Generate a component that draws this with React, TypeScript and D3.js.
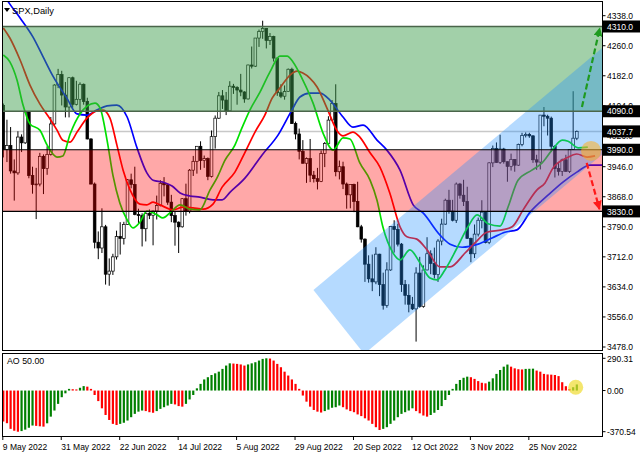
import React from 'react';
import * as d3 from 'd3';

// ---------- data ----------
const openPrices = [
  4105, 3991, 4001, 3935, 3930, 4023, 4008, 4088, 3923, 3900,
  3901, 3973, 3941, 3978, 4057, 4158, 4185, 4132, 4101, 4177,
  4108, 4121, 4160, 4115, 4018, 3901, 3750, 3735, 3790, 3667,
  3675, 3712, 3765, 3760, 3796, 3912, 3900, 3822, 3819, 3785,
  3825, 3820, 3831, 3845, 3903, 3899, 3854, 3819, 3802, 3790,
  3863, 3831, 3937, 3960, 3999, 3962, 3967, 3921, 4024, 4072,
  4130, 4119, 4091, 4155, 4152, 4145, 4140, 4122, 4210, 4207,
  4280, 4297, 4305, 4274, 4284, 4228, 4138, 4129, 4141, 4199,
  4058, 4031, 3986, 3955, 3967, 3924, 3915, 3908, 3980, 4006,
  4067, 4110, 3933, 3946, 3901, 3873, 3900, 3856, 3790, 3758,
  3693, 3655, 3647, 3719, 3640, 3586, 3678, 3791, 3783, 3745,
  3640, 3612, 3589, 3577, 3670, 3583, 3678, 3720, 3695, 3666,
  3753, 3797, 3859, 3831, 3807, 3901, 3872, 3856, 3760, 3720,
  3771, 3807, 3828, 3749, 3956, 3993, 3957, 3992, 3959, 3947,
  3965, 3950, 4004, 4027, 4030, 4026, 3964, 3958, 4080, 4077,
  4072, 3999, 3941, 3934, 3964, 3934, 3991, 4020,
];
const highPrices = [
  4110, 4068, 4049, 3965, 4038, 4030, 4090, 4090, 3946, 3943,
  3982, 3978, 3999, 4075, 4160, 4200, 4195, 4166, 4178, 4180,
  4169, 4165, 4162, 4125, 4020, 3905, 3778, 3838, 3795, 3708,
  3720, 3780, 3802, 3803, 3914, 3928, 3946, 3837, 3825, 3830,
  3835, 3832, 3871, 3911, 3919, 3900, 3873, 3829, 3804, 3864,
  3902, 3940, 3974, 3999, 4012, 3975, 3970, 4040, 4079, 4140,
  4145, 4140, 4168, 4161, 4155, 4187, 4142, 4211, 4258, 4280,
  4302, 4325, 4306, 4293, 4286, 4230, 4160, 4157, 4201, 4203,
  4063, 4045, 4015, 3970, 4018, 3935, 3943, 3988, 4010, 4077,
  4119, 4160, 3962, 3959, 3905, 3900, 3902, 3907, 3795, 3760,
  3716, 3718, 3737, 3720, 3671, 3698, 3792, 3807, 3798, 3748,
  3652, 3641, 3608, 3685, 3712, 3690, 3763, 3729, 3736, 3758,
  3811, 3863, 3886, 3860, 3905, 3904, 3912, 3894, 3762, 3796,
  3814, 3859, 3830, 3958, 4001, 4009, 4029, 3995, 3960, 3980,
  3966, 4006, 4034, 4035, 4034, 4028, 3977, 4080, 4101, 4081,
  4076, 4002, 3958, 3967, 3977, 3991, 4142, 4040,
];
const lowPrices = [
  3970, 3958, 3928, 3858, 3925, 3984, 4005, 3916, 3876, 3810,
  3895, 3875, 3925, 3975, 4055, 4150, 4105, 4074, 4074, 4099,
  4105, 4080, 4107, 4017, 3900, 3734, 3706, 3722, 3640, 3637,
  3665, 3705, 3718, 3744, 3795, 3890, 3820, 3799, 3739, 3752,
  3810, 3742, 3809, 3843, 3869, 3847, 3802, 3741, 3722, 3788,
  3819, 3825, 3922, 3928, 3938, 3943, 3911, 3918, 3993, 4070,
  4096, 4080, 4088, 4135, 4107, 4129, 4112, 4120, 4201, 4205,
  4257, 4278, 4253, 4262, 4219, 4130, 4124, 4120, 4140, 4057,
  4017, 3965, 3954, 3904, 3906, 3905, 3887, 3906, 3945, 4005,
  4065, 3921, 3913, 3888, 3837, 3838, 3828, 3789, 3749, 3647,
  3645, 3623, 3641, 3610, 3575, 3580, 3676, 3723, 3739, 3621,
  3588, 3568, 3574, 3492, 3580, 3580, 3677, 3667, 3656, 3647,
  3742, 3795, 3824, 3804, 3800, 3863, 3844, 3759, 3698, 3709,
  3765, 3786, 3747, 3745, 3945, 3956, 3953, 3954, 3907, 3936,
  3933, 3948, 3999, 4022, 4021, 3956, 3938, 3939, 4051, 4027,
  3984, 3918, 3923, 3922, 3933, 3930, 3990, 4015,
];
const closePrices = [
  3991, 4001, 3935, 3930, 4023, 4008, 4088, 3923, 3900, 3901,
  3973, 3941, 3978, 4057, 4158, 4185, 4132, 4101, 4177, 4108,
  4121, 4160, 4115, 4018, 3901, 3750, 3735, 3790, 3667, 3675,
  3712, 3765, 3760, 3796, 3912, 3900, 3822, 3819, 3785, 3825,
  3820, 3831, 3845, 3903, 3899, 3854, 3819, 3802, 3790, 3863,
  3831, 3937, 3960, 3999, 3962, 3967, 3921, 4024, 4072, 4130,
  4119, 4091, 4155, 4152, 4145, 4140, 4122, 4210, 4207, 4280,
  4297, 4305, 4274, 4284, 4228, 4138, 4129, 4141, 4199, 4058,
  4031, 3986, 3955, 3967, 3924, 3915, 3908, 3980, 4006, 4067,
  4110, 3933, 3946, 3901, 3873, 3900, 3856, 3790, 3758, 3693,
  3655, 3647, 3719, 3640, 3586, 3678, 3791, 3783, 3745, 3640,
  3612, 3589, 3577, 3670, 3583, 3678, 3720, 3695, 3666, 3753,
  3797, 3859, 3831, 3807, 3901, 3872, 3856, 3760, 3720, 3771,
  3807, 3828, 3749, 3956, 3993, 3957, 3992, 3959, 3947, 3965,
  3950, 4004, 4027, 4030, 4026, 3964, 3958, 4080, 4077, 4072,
  3999, 3941, 3934, 3964, 3934, 3991, 4020, 4037.7,
];

// Awesome Oscillator, one value per bar
const aoValues = [
  -279, -294, -345, -362, -370.54, -365, -352, -335, -315, -318,
  -322, -325, -295, -235, -180, -120, -60, -25, 15, 12,
  10, 25, 40, 35, 15, -40, -95, -160, -220, -265,
  -300, -310, -300, -290, -270, -240, -210, -190, -180, -185,
  -195, -200, -185, -165, -150, -135, -120, -125, -140, -145,
  -120, -80, -40, 20, 60, 100, 120, 140, 155, 170,
  195, 225, 245, 243, 240, 235, 225, 235, 245, 255,
  270, 285, 290.31, 288, 270, 240, 210, 170, 135, 100,
  60, 15, -45, -100, -145, -175, -190, -198, -185, -172,
  -155, -150, -135, -150, -170, -185, -195, -215, -230, -250,
  -270, -300, -330, -355, -345, -330, -300, -270, -240, -210,
  -195, -180, -160, -185, -205, -225, -235, -220, -200, -175,
  -140, -85, -40, 15, 60, 95, 115, 125, 120, 105,
  85, 70, 65, 80, 110, 150, 185, 215, 234, 215,
  200, 192, 190, 195, 196, 197, 180, 170, 150, 145,
  143, 140, 130, 75, 39, 15, 30, 55,
];

// Alligator lines (bar index, price)
const jawBars = [0, 1.8, 4.6, 8.1, 10.9, 13.6, 17.4, 20.2, 22.9, 25.6, 28.4, 31.1, 33.9, 36.6, 39.3, 41.0, 43.7, 46.2, 48.4, 51.1, 53.8, 57.4, 59.9, 62.1, 66.2, 70.8, 75.2, 79.0, 81.2, 83.9, 86.7, 89.4, 93.0, 95.7, 98.5, 102.3, 105.0, 108.6, 112.2, 114.9, 119.5, 122.3, 125.6, 130.0, 133.8, 137.3, 140.6, 144.2, 149.1, 153.2, 157.0, 160.6, 165];
const jawPrices = [4394, 4368, 4332, 4283, 4231, 4181, 4124, 4083, 4080, 4093, 4104, 4106, 4075, 3995, 3930, 3911, 3906, 3896, 3878, 3870, 3867, 3860, 3860, 3880, 3917, 3976, 4028, 4093, 4127, 4137, 4137, 4119, 4075, 4049, 4054, 4015, 3989, 3937, 3847, 3826, 3769, 3745, 3737, 3745, 3761, 3776, 3782, 3828, 3872, 3906, 3932, 3950, 3950];
const teethBars = [0, 1.8, 4.6, 7.3, 10.0, 12.8, 14.7, 16.3, 18.3, 20.2, 22.9, 25.6, 27.3, 29.2, 31.1, 32.8, 34.7, 37.4, 39.3, 41.0, 42.9, 46.5, 49.2, 51.9, 54.7, 57.4, 59.9, 63.4, 66.2, 68.9, 71.6, 73.6, 75.7, 78.5, 80.4, 82.0, 83.9, 85.9, 88.6, 91.4, 93.0, 95.7, 97.6, 100.4, 103.1, 105.8, 108.6, 110.5, 113.2, 116.0, 119.5, 122.3, 126.4, 129.1, 132.4, 136.5, 139.3, 142.3, 146.1, 148.3, 150.5, 154.3, 157.0, 159.8, 162];
const teethPrices = [4306, 4280, 4223, 4158, 4109, 4070, 4041, 4015, 4010, 4036, 4072, 4091, 4093, 4072, 4002, 3937, 3886, 3849, 3847, 3854, 3847, 3834, 3841, 3839, 3836, 3849, 3893, 3932, 3984, 4036, 4080, 4124, 4150, 4184, 4194, 4189, 4176, 4153, 4098, 4039, 4026, 4036, 4023, 3982, 3945, 3878, 3790, 3764, 3758, 3730, 3686, 3686, 3722, 3748, 3776, 3782, 3790, 3834, 3886, 3904, 3943, 3969, 3979, 3971, 3974];
const lipsBars = [0, 1.8, 3.75, 5.4, 7.3, 10.0, 12.0, 14.7, 16.3, 18.3, 21.0, 25.1, 26.5, 28.4, 30.0, 31.9, 33.9, 35.5, 37.4, 39.3, 42.1, 43.7, 45.6, 48.4, 51.1, 53.8, 56.6, 58.5, 60.7, 63.4, 65.3, 67.5, 70.3, 73.0, 75.7, 77.7, 79.3, 82.0, 84.8, 87.5, 90.3, 93.0, 94.9, 97.6, 100.4, 102.3, 103.9, 106.7, 108.6, 111.3, 114.1, 116.8, 118.7, 120.9, 124.2, 127.2, 129.7, 132.7, 136.0, 138.2, 140.9, 144.7, 147.5, 150.2, 153.0, 154.6, 157.4, 160];
const lipsPrices = [4236, 4218, 4171, 4106, 4057, 4041, 4002, 3971, 3974, 4031, 4083, 4111, 4098, 4015, 3924, 3852, 3808, 3787, 3802, 3831, 3821, 3813, 3826, 3847, 3836, 3834, 3886, 3917, 3963, 4002, 4046, 4093, 4140, 4192, 4233, 4233, 4218, 4171, 4111, 4034, 3989, 4021, 4018, 3956, 3911, 3859, 3790, 3722, 3704, 3730, 3696, 3657, 3652, 3678, 3735, 3790, 3821, 3798, 3792, 3842, 3911, 3937, 3956, 3989, 4015, 4012, 3995, 3997];

const priceTicks = [4338, 4260, 4182, 4104, 4026, 3946, 3868, 3790, 3712, 3634, 3556, 3478];
const aoTicks = [290.31, 0, -370.54];
const dateLabels = ['9 May 2022', '31 May 2022', '22 Jun 2022', '14 Jul 2022', '5 Aug 2022', '29 Aug 2022', '20 Sep 2022', '12 Oct 2022', '3 Nov 2022', '25 Nov 2022'];
const dateLabelBars = [0, 16, 32, 48, 64, 80, 96, 112, 128, 144];

const greenZone = [4090, 4310];
const pinkZone = [3830, 3990];
const greenLevels = [4310, 4090];
const blackLevels = [3990, 3830];
const bidPrice = 4037.7;
const markedLevels = [4310, 4090, 4037.7, 3990, 3830];

// channel: left corner, bottom corner (bar, price), slope in price per bar
const channelLeft = [84.9, 3626];
const channelBottom = [98.8, 3460];
const channelSlope = 7.95;

const upArrow = [[158.4, 4101], [163.3, 4306]];
const downArrow = [[159.7, 3956], [163.2, 3836]];
const circleMark = [160.9, 3987];
const aoMark = [156.7, 30];

// ---------- layout ----------
const W = 640;
const H = 457;
const L = 2.5;
const R = 602.5;
const MT = 1.5;
const MB = 350.5;
const AT = 353.5;
const AB = 436.5;
const FONT = '"Liberation Sans", Arial, sans-serif';

export default function App() {
  const x = d3.scaleLinear().domain([0, 157]).range([3.3, 3.3 + 157 * 3.653]);
  const y = d3.scaleLinear().domain([3478, 4338]).range([347, 15.7]);
  const ya = d3.scaleLinear().domain([-370.54, 290.31]).range([431.7, 358.3]);

  const mkLine = (bars: number[], prices: number[]) =>
    d3
      .line<number>()
      .x((i) => x(bars[i]))
      .y((i) => y(prices[i]))
      .curve(d3.curveMonotoneX)(d3.range(bars.length)) || '';

  const chan = [
    channelLeft,
    channelBottom,
    [channelBottom[0] + 120, channelBottom[1] + 120 * channelSlope],
    [channelLeft[0] + 120, channelLeft[1] + 120 * channelSlope],
  ]
    .map((p) => `${x(p[0])},${y(p[1])}`)
    .join(' ');

  const bw = 2.7;

  return (
    <svg
      width={W}
      height={H}
      style={{ position: 'absolute', left: 0, top: 0, background: '#fff' }}
      fontFamily={FONT}
    >
      <defs>
        <clipPath id="mainClip">
          <rect x={L} y={MT} width={R - L} height={MB - MT} />
        </clipPath>
        <marker id="headG" viewBox="0 0 10 10" refX="9" refY="5" markerWidth="9" markerHeight="9" markerUnits="userSpaceOnUse" orient="auto">
          <path d="M0,0 L10,5 L0,10 z" fill="#1f9a1f" />
        </marker>
        <marker id="headR" viewBox="0 0 10 10" refX="9" refY="5" markerWidth="9" markerHeight="9" markerUnits="userSpaceOnUse" orient="auto">
          <path d="M0,0 L10,5 L0,10 z" fill="#ff1a1a" />
        </marker>
      </defs>

      <rect x={0} y={0} width={W} height={H} fill="#fff" />

      <g clipPath="url(#mainClip)">
        {/* bid line */}
        <line x1={L} x2={R} y1={y(bidPrice)} y2={y(bidPrice)} stroke="#c8c8c8" strokeWidth={1.5} />

        {/* candles */}
        {openPrices.map((o, i) => {
          const c = closePrices[i];
          const cx = x(i);
          const top = y(Math.max(o, c));
          const bot = y(Math.min(o, c));
          const bull = c >= o;
          return (
            <g key={i}>
              <line x1={cx} x2={cx} y1={y(highPrices[i])} y2={y(lowPrices[i])} stroke="#000" strokeWidth={1} />
              <rect
                x={cx - bw / 2}
                y={top}
                width={bw}
                height={Math.max(bot - top, 0.8)}
                fill={bull ? '#fff' : '#000'}
                stroke="#000"
                strokeWidth={0.7}
              />
            </g>
          );
        })}

        {/* alligator */}
        <path d={mkLine(jawBars, jawPrices)} fill="none" stroke="#0000ff" strokeWidth={1.7} />
        <path d={mkLine(teethBars, teethPrices)} fill="none" stroke="#ff0000" strokeWidth={1.7} />
        <path d={mkLine(lipsBars, lipsPrices)} fill="none" stroke="#00e000" strokeWidth={1.7} />

        {/* zones */}
        <rect x={L} width={R - L} y={y(greenZone[1])} height={y(greenZone[0]) - y(greenZone[1])} fill="rgb(60,156,76)" fillOpacity={0.48} />
        <rect x={L} width={R - L} y={y(pinkZone[1])} height={y(pinkZone[0]) - y(pinkZone[1])} fill="rgb(255,0,0)" fillOpacity={0.34} />
        <polygon points={chan} fill="rgb(30,144,255)" fillOpacity={0.33} />

        {greenLevels.map((p) => (
          <line key={p} x1={L} x2={R} y1={y(p)} y2={y(p)} stroke="#4a654a" strokeWidth={1.5} />
        ))}
        {blackLevels.map((p) => (
          <line key={p} x1={L} x2={R} y1={y(p)} y2={y(p)} stroke="#000" strokeWidth={1.2} />
        ))}

        {/* forecast arrows */}
        <line
          x1={x(upArrow[0][0])}
          y1={y(upArrow[0][1])}
          x2={x(upArrow[1][0])}
          y2={y(upArrow[1][1])}
          stroke="#1f9a1f"
          strokeWidth={2.2}
          strokeDasharray="6 3"
          markerEnd="url(#headG)"
        />
        <line
          x1={x(downArrow[0][0])}
          y1={y(downArrow[0][1])}
          x2={x(downArrow[1][0])}
          y2={y(downArrow[1][1])}
          stroke="#ff1a1a"
          strokeWidth={2.2}
          strokeDasharray="6 3"
          markerEnd="url(#headR)"
        />
        <circle cx={x(circleMark[0])} cy={y(circleMark[1])} r={10} fill="#ffb020" fillOpacity={0.55} />
      </g>

      {/* main frame */}
      <rect x={L} y={MT} width={R - L} height={MB - MT} fill="none" stroke="#000" strokeWidth={1} />

      {/* title */}
      <path d="M4,8 L10,8 L7,12 z" fill="#000" />
      <text x={12} y={14} fontSize={9.3} fill="#000">SPX,Daily</text>

      {/* price axis */}
      {priceTicks.map((p) => (
        <g key={p}>
          <line x1={R} x2={R + 3} y1={y(p)} y2={y(p)} stroke="#000" />
          <text x={607} y={y(p) + 3.2} fontSize={8.5} fill="#000">{p.toFixed(1)}</text>
        </g>
      ))}
      {markedLevels.map((p) => (
        <g key={p}>
          <rect x={R + 0.5} y={y(p) - 6} width={37} height={12} fill="#000" />
          <text x={607} y={y(p) + 3.2} fontSize={8.5} fill="#fff">{p.toFixed(1)}</text>
        </g>
      ))}

      {/* AO window */}
      {aoValues.map((v, i) => {
        const up = i === 0 ? false : v > aoValues[i - 1];
        const y0 = ya(0);
        const y1 = ya(v);
        return (
          <rect
            key={i}
            x={x(i) - 1.1}
            y={Math.min(y0, y1)}
            width={2.2}
            height={Math.max(Math.abs(y1 - y0), 0.6)}
            fill={up ? '#008000' : '#ff0000'}
          />
        );
      })}
      <circle cx={x(aoMark[0])} cy={ya(aoMark[1])} r={7.5} fill="#f0dc30" fillOpacity={0.7} />
      <rect x={L} y={AT} width={R - L} height={AB - AT} fill="none" stroke="#000" strokeWidth={1} />
      <text x={7} y={364} fontSize={8.8} fill="#000">AO 50.00</text>
      {aoTicks.map((v) => (
        <g key={v}>
          <line x1={R} x2={R + 3} y1={ya(v)} y2={ya(v)} stroke="#000" />
          <text x={607} y={ya(v) + 3.2} fontSize={8.5} fill="#000">{v.toFixed(2)}</text>
        </g>
      ))}

      {/* time axis */}
      {dateLabelBars.map((b, k) => (
        <g key={b}>
          <line x1={x(b) - 0.5} x2={x(b) - 0.5} y1={AB} y2={AB + 3.5} stroke="#000" />
          <text x={x(b) - 0.5} y={450} fontSize={8.5} fill="#000">{dateLabels[k]}</text>
        </g>
      ))}
    </svg>
  );
}
